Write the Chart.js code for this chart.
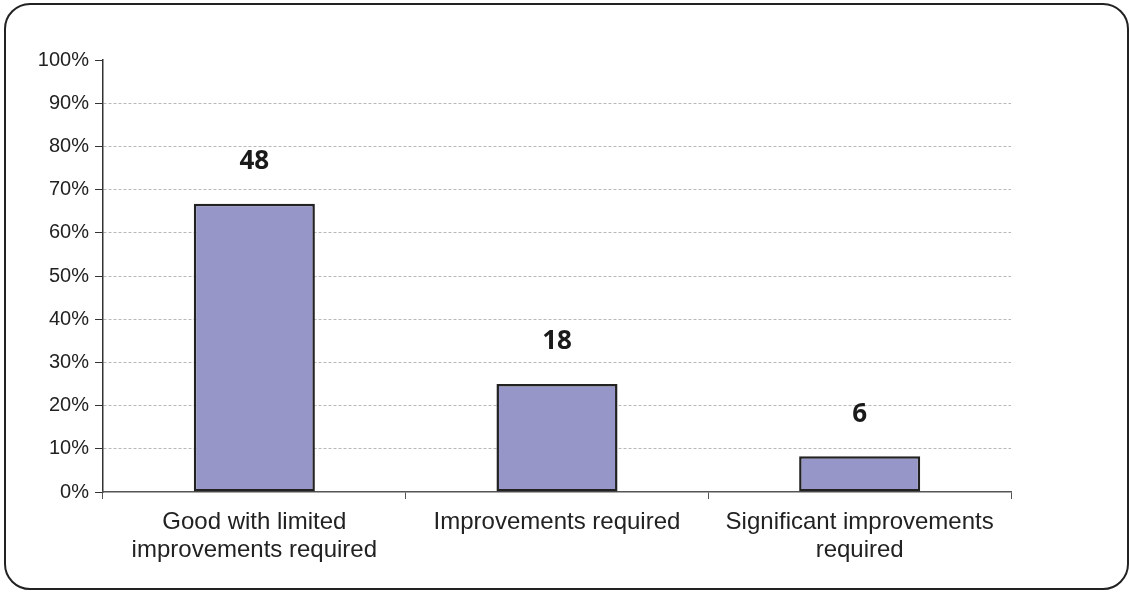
<!DOCTYPE html>
<html>
<head>
<meta charset="utf-8">
<script src="https://cdn.jsdelivr.net/npm/chart.js@4"></script>
<style>
  html, body { margin: 0; padding: 0; background: #fff; }
  #wrap { position: relative; width: 1130px; height: 592px; }
  #frame {
    position: absolute; left: 4px; top: 3px; width: 1125px; height: 587px;
    border: 2.5px solid #222; border-radius: 26px; box-sizing: border-box;
  }
  canvas { position: absolute; left: 0; top: 0; }
</style>
</head>
<body>
<div id="wrap">
  <div id="frame"></div>
  <canvas id="chart" width="1130" height="592"></canvas>
</div>
<script>
// data
const categories = [
    ['Good with limited', 'improvements required'],
    'Improvements required',
    ['Significant improvements', 'required']
]
const counts = [48, 18, 6]
const percents = [66.7, 25, 8.3]
const yTicks = [0, 10, 20, 30, 40, 50, 60, 70, 80, 90, 100]

const countLabels = {
    id: 'countLabels',
    afterDatasetsDraw(chart) {
        const ctx = chart.ctx
        const meta = chart.getDatasetMeta(0)
        ctx.save()
        ctx.font = 'bold 26px "Open Sans", "Liberation Sans", sans-serif'
        ctx.fillStyle = '#1a1a1a'
        ctx.textAlign = 'center'
        ctx.textBaseline = 'middle'
        meta.data.forEach((bar, i) => {
            ctx.fillText(counts[i], bar.x, bar.y - 42)
        })
        ctx.restore()
    }
}

new Chart(document.getElementById('chart'), {
    type: 'bar',
    data: {
        labels: categories,
        datasets: [{
            data: percents,
            backgroundColor: '#9696c8',
            borderColor: '#222',
            borderWidth: 2.5,
            borderSkipped: false,
            categoryPercentage: 0.8,
            barPercentage: 0.5
        }]
    },
    options: {
        responsive: false,
        animation: false,
        events: [],
        layout: { padding: { left: 0, top: 60, right: 119, bottom: 0 } },
        plugins: {
            legend: { display: false },
            tooltip: { enabled: false }
        },
        scales: {
            y: {
                min: 0,
                max: 100,
                afterBuildTicks: (scale) => { scale.ticks = yTicks.map(v => ({ value: v })) },
                afterFit: (scale) => { scale.width = 103 },
                border: { display: true, color: '#333', width: 1.5, dash: [3, 2] },
                grid: {
                    color: (c) => (c.tick && (c.tick.value === 0 || c.tick.value === 100)) ? 'rgba(0,0,0,0)' : '#b8b8b8',
                    lineWidth: 1,
                    tickColor: '#333',
                    tickLength: 8,
                    tickBorderDash: []
                },
                ticks: {
                    padding: 6,
                    color: '#222',
                    font: { family: '"Liberation Sans", Arial, sans-serif', size: 20 },
                    callback: (v) => v + '%'
                }
            },
            x: {
                afterFit: (scale) => { scale.height = 100 },
                border: { display: true, color: '#555', width: 1.5 },
                grid: {
                    offset: true,
                    drawOnChartArea: false,
                    tickColor: '#555',
                    tickLength: 7
                },
                ticks: {
                    padding: 10,
                    color: '#222',
                    maxRotation: 0,
                    font: { family: '"Liberation Sans", Arial, sans-serif', size: 24, lineHeight: 1.15 }
                }
            }
        }
    },
    plugins: [countLabels]
})
</script>
</body>
</html>
